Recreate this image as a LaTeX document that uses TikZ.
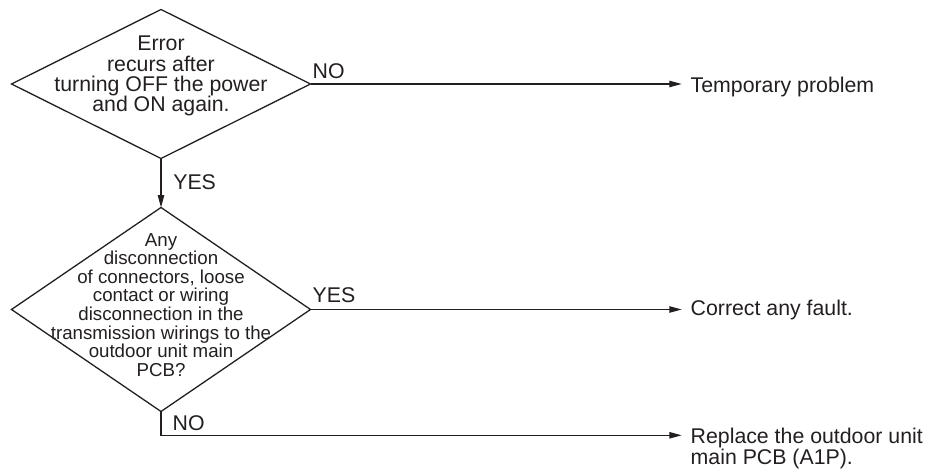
\documentclass[tikz,border=0pt]{standalone}
\usepackage{fontspec}
\setmainfont{Liberation Sans}
\usetikzlibrary{shapes.geometric,arrows.meta}
\definecolor{ink}{RGB}{35,31,32}
\begin{document}
\begin{tikzpicture}[x=0.5pt,y=-0.5pt,
  every node/.style={text=ink,inner sep=0pt,outer sep=0pt},
  decision/.style={draw=ink,line width=0.65pt,shape=diamond,minimum width=149.5pt,inner sep=0pt,outer sep=0pt},
  dtextA/.style={align=center,font=\fontsize{10.65}{10.2}\selectfont},
  dtextB/.style={align=center,font=\fontsize{9.35}{9.3}\selectfont},
  lbl/.style={font=\fontsize{10.65}{10.5}\selectfont,anchor=base west},
  result/.style={align=left,font=\fontsize{10.65}{10.5}\selectfont},
  arr/.style={draw=ink,line width=0.65pt,-{Triangle[length=6.2pt,width=3.2pt]}},
  conn/.style={draw=ink,line width=0.65pt}]
\useasboundingbox (0,0) rectangle (931,474);
% decisions
\node[decision,minimum height=74.5pt] (d1) at (161,84) {};
\node[dtextA,anchor=north] (q1) at (161,36) {Error\\recurs after\\turning OFF the power\\and ON again.};
\node[decision,minimum height=102pt] (d2) at (161,309.5) {};
\node[dtextB,anchor=north] (q2) at (161,233.3) {Any\\disconnection\\of connectors, loose\\contact or wiring\\disconnection in the\\transmission wirings to the\\outdoor unit main\\PCB?};
% results
\node[lbl] (t1) at (690.7,92.3) {Temporary problem};
\node[lbl] (t2) at (690.7,315.5) {Correct any fault.};
\node[result,anchor=north west] (t3) at (690.7,428.3) {Replace the outdoor unit\\main PCB (A1P).};
% labels
\node[lbl] (no1) at (312.7,78.3) {NO};
\node[lbl] (yes1) at (173.3,190) {YES};
\node[lbl] (yes2) at (312.7,302.7) {YES};
\node[lbl] (no2) at (172.7,430.7) {NO};
% connectors
\draw[arr] (d1.south) -- (d2.north);
\draw[arr,shorten >=4.5pt] (d1.east) -- (d1.east -| t1.west);
\draw[arr,shorten >=4.5pt] (d2.east) -- (d2.east -| t2.west);
\draw[arr,shorten >=4.5pt] (d2.south) |- ([yshift=-3.5pt]t3.north west);
\end{tikzpicture}
\end{document}
